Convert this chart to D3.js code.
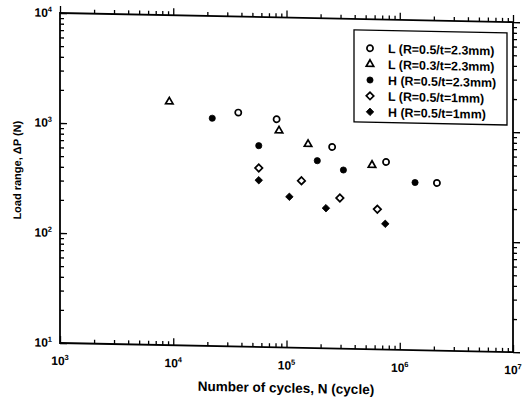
<!DOCTYPE html>
<html>
<head>
<meta charset="utf-8">
<script src="https://cdn.jsdelivr.net/npm/d3@7"></script>
<style>
body { margin: 0; background: #fff; }
text { font-family: "Liberation Sans", Arial, sans-serif; fill: #000; }
</style>
</head>
<body>
<div id="chart"></div>
<script>
// axis ticks
var xMajor = [1e3, 1e4, 1e5, 1e6, 1e7];
var xExp = ["3", "4", "5", "6", "7"];
var yMajor = [1e1, 1e2, 1e3, 1e4];
var yExp = ["1", "2", "3", "4"];

// series
var seriesNames = ["L (R=0.5/t=2.3mm)", "L (R=0.3/t=2.3mm)", "H (R=0.5/t=2.3mm)", "L (R=0.5/t=1mm)", "H (R=0.5/t=1mm)"];
var seriesMarks = ["circleOpen", "triangleOpen", "circle", "diamondOpen", "diamond"];

var cyclesL05t23 = [37500, 81800, 253000, 757000, 2130000];
var loadL05t23 = [1340, 1185, 679, 507, 334];
var cyclesL03t23 = [9230, 85900, 155000, 569000];
var loadL03t23 = [1637, 933, 713, 473];
var cyclesH05t23 = [22100, 56900, 187000, 318000, 1365000];
var loadH05t23 = [1178, 676, 506, 421, 334];
var cyclesL05t1 = [56900, 135500, 296000, 634000];
var loadL05t1 = [424, 330, 234, 188];
var cyclesH05t1 = [56900, 106000, 223000, 745000];
var loadH05t1 = [328, 235, 188, 139];

var seriesCycles = [cyclesL05t23, cyclesL03t23, cyclesH05t23, cyclesL05t1, cyclesH05t1];
var seriesLoads = [loadL05t23, loadL03t23, loadH05t23, loadL05t1, loadH05t1];

var W = 523, H = 401;
var margin = {top: 13, left: 60};
var width = 453, height = 330;

var svg = d3.select("#chart").append("svg")
    .attr("width", W).attr("height", H);

// the scan is slightly skewed
var g = svg.append("g")
    .attr("transform", "translate(" + margin.left + "," + margin.top + ") skewY(1.15)");

var x = d3.scaleLog().domain([1e3, 1e7]).range([0, width]);
var y = d3.scaleLog().domain([1e1, 1e4]).range([height, 0]);

var isMajor = function (v) { return Math.abs(Math.log10(v) - Math.round(Math.log10(v))) < 1e-9; };
var xAll = x.ticks(), yAll = y.ticks();

function tickLines(sel, axis) {
    sel.call(axis.tickFormat(""));
    sel.select(".domain").remove();
    sel.selectAll("line").attr("stroke", "#000").attr("stroke-width", 1.3);
}

// ticks on all four sides, pointing inward
[["bottom", height, 1], ["top", 0, -1]].forEach(function (s) {
    var gg = g.append("g").attr("transform", "translate(0," + s[1] + ")");
    var maj = gg.append("g"), min = gg.append("g");
    var mk = s[0] == "bottom" ? d3.axisBottom : d3.axisTop;
    tickLines(maj, mk(x).tickValues(xAll.filter(isMajor)).tickSize(-7 * s[2]));
    tickLines(min, mk(x).tickValues(xAll.filter(function (v) { return !isMajor(v); })).tickSize(-4 * s[2]));
});
[["left", 0, 1], ["right", width, -1]].forEach(function (s) {
    var gg = g.append("g").attr("transform", "translate(" + s[1] + ",0)");
    var maj = gg.append("g"), min = gg.append("g");
    var mk = s[0] == "left" ? d3.axisLeft : d3.axisRight;
    tickLines(maj, mk(y).tickValues(yAll.filter(isMajor)).tickSize(-7 * s[2]));
    tickLines(min, mk(y).tickValues(yAll.filter(function (v) { return !isMajor(v); })).tickSize(-4 * s[2]));
});

// frame
g.append("rect")
    .attr("width", width).attr("height", height)
    .attr("fill", "none").attr("stroke", "#000").attr("stroke-width", 1.8);

// tick labels 10^n
var xl = g.selectAll(".xlab").data(xMajor).enter().append("text")
    .attr("class", "xlab")
    .attr("x", function (d) { return x(d); })
    .attr("y", height + 22)
    .attr("text-anchor", "middle")
    .style("font-size", "12px").style("font-weight", "bold");
xl.append("tspan").text("10");
xl.append("tspan").attr("dy", -5).style("font-size", "7.5px").text(function (d, i) { return xExp[i]; });

var yl = g.selectAll(".ylab").data(yMajor).enter().append("text")
    .attr("class", "ylab")
    .attr("x", -8)
    .attr("y", function (d) { return y(d) + 4; })
    .attr("text-anchor", "end")
    .style("font-size", "12px").style("font-weight", "bold");
yl.append("tspan").text("10");
yl.append("tspan").attr("dy", -5).style("font-size", "7.5px").text(function (d, i) { return yExp[i]; });

// axis titles
g.append("text")
    .attr("x", 226).attr("y", height + 45)
    .attr("text-anchor", "middle")
    .style("font-size", "13.5px").style("font-weight", "bold")
    .text("Number of cycles, N (cycle)");

g.append("text")
    .attr("transform", "translate(-39," + 158 + ") rotate(-90)")
    .attr("text-anchor", "middle")
    .style("font-size", "11px").style("font-weight", "bold")
    .text("Load range, \u0394P (N)");

// markers
function markPath(kind) {
    if (kind.indexOf("circle") == 0) return d3.symbol(d3.symbolCircle, 30)();
    if (kind.indexOf("triangle") == 0) return d3.symbol(d3.symbolTriangle, 24)();
    return d3.symbol(d3.symbolSquare, 28)();
}
function drawMark(sel, kind) {
    var open = kind.indexOf("Open") > 0;
    sel.attr("d", markPath(kind))
        .attr("fill", open ? "#fff" : "#000")
        .attr("stroke", "#000")
        .attr("stroke-width", open ? 1.7 : 0.8);
}

seriesNames.forEach(function (name, i) {
    var pts = seriesCycles[i].map(function (c, j) { return {n: c, p: seriesLoads[i][j]}; });
    var rot = seriesMarks[i].indexOf("diamond") == 0 ? " rotate(45)" : "";
    g.append("g").selectAll("path").data(pts).enter().append("path")
        .attr("transform", function (d) { return "translate(" + x(d.n) + "," + y(d.p) + ")" + rot; })
        .call(drawMark, seriesMarks[i]);
});

// legend
var leg = g.append("g").attr("transform", "translate(294,11)");
leg.append("rect").attr("width", 153).attr("height", 92)
    .attr("fill", "#fff").attr("stroke", "#000").attr("stroke-width", 1.3);
seriesNames.forEach(function (name, i) {
    var row = leg.append("g").attr("transform", "translate(0," + (18 + i * 15.9) + ")");
    var rot = seriesMarks[i].indexOf("diamond") == 0 ? " rotate(45)" : "";
    row.append("path").attr("transform", "translate(16,0)" + rot).call(drawMark, seriesMarks[i]);
    row.append("text").attr("x", 34).attr("y", 4.5)
        .style("font-size", "12.4px").style("font-weight", "bold")
        .text(name);
});
</script>
</body>
</html>
